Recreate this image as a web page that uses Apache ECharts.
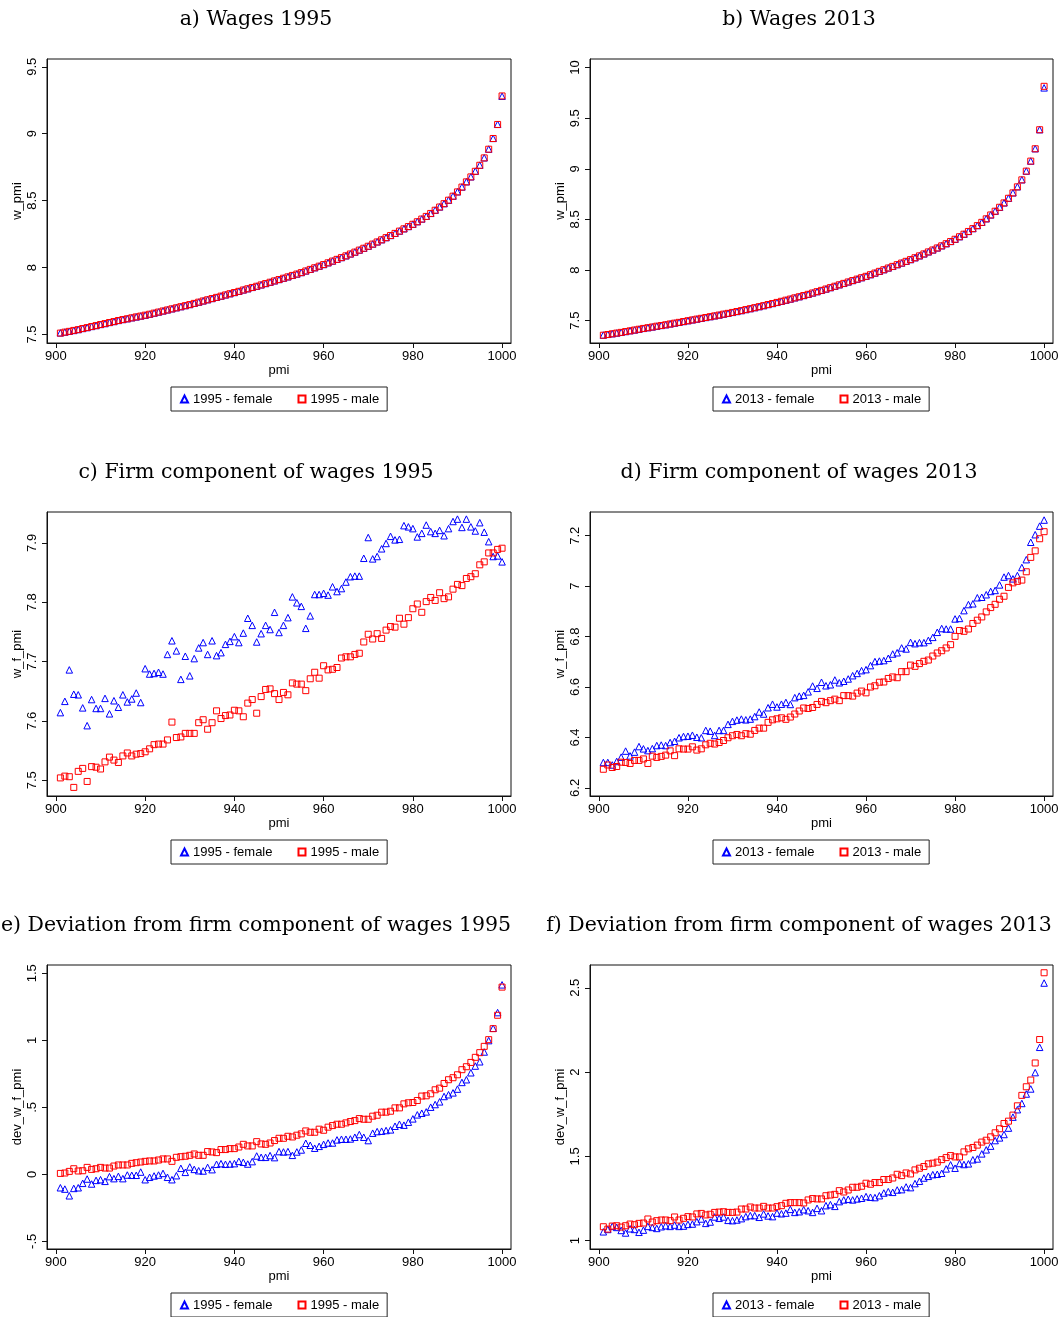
<!DOCTYPE html>
<html><head><meta charset="utf-8">
<script src="https://cdn.jsdelivr.net/npm/echarts@6/dist/echarts.min.js"></script>
<style>html,body{margin:0;padding:0;background:#fff}#c{width:1061px;height:1317px}</style>
</head><body><div id="c"></div><script>
const pmi = [901,902,903,904,905,906,907,908,909,910,911,912,913,914,915,916,917,918,919,920,
921,922,923,924,925,926,927,928,929,930,931,932,933,934,935,936,937,938,939,940,
941,942,943,944,945,946,947,948,949,950,951,952,953,954,955,956,957,958,959,960,
961,962,963,964,965,966,967,968,969,970,971,972,973,974,975,976,977,978,979,980,
981,982,983,984,985,986,987,988,989,990,991,992,993,994,995,996,997,998,999,1000];

const aFemale = [7.512,7.518,7.524,7.530,7.537,7.545,7.552,7.560,7.567,7.575,
7.582,7.590,7.597,7.605,7.612,7.618,7.625,7.631,7.638,7.644,
7.652,7.660,7.668,7.676,7.684,7.692,7.700,7.708,7.716,7.724,
7.733,7.742,7.751,7.760,7.769,7.778,7.787,7.796,7.805,7.814,
7.823,7.833,7.842,7.852,7.861,7.871,7.881,7.891,7.901,7.911,
7.921,7.931,7.942,7.952,7.963,7.975,7.987,7.999,8.011,8.023,
8.036,8.049,8.062,8.075,8.088,8.102,8.116,8.131,8.145,8.160,
8.176,8.192,8.208,8.224,8.240,8.256,8.273,8.290,8.307,8.324,
8.343,8.363,8.383,8.405,8.429,8.453,8.478,8.504,8.534,8.566,
8.602,8.641,8.678,8.720,8.765,8.820,8.885,8.965,9.070,9.280];
const aMale = [7.510,7.517,7.523,7.530,7.536,7.544,7.551,7.559,7.566,7.574,
7.581,7.589,7.596,7.604,7.611,7.617,7.624,7.631,7.637,7.644,
7.651,7.659,7.667,7.675,7.683,7.691,7.699,7.707,7.715,7.723,
7.732,7.741,7.750,7.759,7.768,7.777,7.786,7.795,7.804,7.813,
7.822,7.832,7.841,7.851,7.860,7.870,7.880,7.890,7.900,7.910,
7.920,7.930,7.941,7.951,7.962,7.974,7.986,7.998,8.010,8.022,
8.035,8.048,8.061,8.074,8.087,8.101,8.115,8.130,8.144,8.159,
8.175,8.191,8.207,8.223,8.239,8.255,8.272,8.289,8.306,8.323,
8.342,8.362,8.382,8.404,8.428,8.452,8.477,8.503,8.533,8.565,
8.601,8.640,8.677,8.719,8.764,8.819,8.884,8.964,9.069,9.282];

const bFemale = [7.358,7.365,7.371,7.378,7.385,7.393,7.401,7.408,7.416,7.424,
7.431,7.438,7.446,7.453,7.460,7.468,7.476,7.484,7.492,7.500,
7.508,7.516,7.524,7.532,7.540,7.548,7.556,7.565,7.573,7.582,
7.591,7.600,7.610,7.619,7.629,7.639,7.649,7.660,7.670,7.681,
7.692,7.703,7.714,7.726,7.737,7.749,7.761,7.774,7.787,7.800,
7.813,7.827,7.841,7.855,7.869,7.883,7.897,7.911,7.925,7.939,
7.955,7.971,7.988,8.004,8.021,8.037,8.054,8.070,8.087,8.104,
8.122,8.141,8.160,8.180,8.199,8.219,8.240,8.261,8.283,8.305,
8.330,8.355,8.382,8.410,8.440,8.472,8.507,8.545,8.582,8.621,
8.664,8.710,8.763,8.823,8.892,8.978,9.077,9.199,9.387,9.800];
const bMale = [7.356,7.363,7.370,7.377,7.384,7.392,7.399,7.407,7.415,7.423,
7.430,7.437,7.445,7.452,7.459,7.467,7.475,7.483,7.491,7.499,
7.507,7.515,7.523,7.531,7.539,7.547,7.555,7.564,7.572,7.581,
7.590,7.599,7.609,7.618,7.628,7.638,7.648,7.659,7.669,7.680,
7.691,7.702,7.713,7.725,7.736,7.748,7.760,7.773,7.786,7.799,
7.812,7.826,7.840,7.854,7.868,7.882,7.896,7.910,7.924,7.938,
7.954,7.970,7.987,8.003,8.020,8.036,8.053,8.069,8.086,8.103,
8.121,8.140,8.159,8.179,8.198,8.218,8.239,8.260,8.282,8.304,
8.329,8.354,8.381,8.409,8.439,8.471,8.506,8.544,8.581,8.620,
8.663,8.709,8.762,8.822,8.891,8.977,9.076,9.198,9.386,9.815];

const cFemale = [7.614,7.633,7.686,7.645,7.644,7.622,7.592,7.636,7.621,7.621,
7.638,7.612,7.634,7.623,7.644,7.632,7.637,7.647,7.631,7.688,
7.679,7.680,7.682,7.679,7.712,7.735,7.718,7.670,7.709,7.676,
7.705,7.723,7.732,7.712,7.735,7.710,7.715,7.729,7.734,7.742,
7.732,7.748,7.773,7.761,7.733,7.747,7.761,7.754,7.783,7.749,
7.761,7.774,7.809,7.799,7.793,7.756,7.777,7.813,7.813,7.815,
7.812,7.826,7.818,7.823,7.834,7.843,7.844,7.844,7.874,7.909,
7.873,7.877,7.890,7.899,7.911,7.905,7.906,7.929,7.927,7.924,
7.910,7.916,7.930,7.919,7.916,7.921,7.912,7.924,7.936,7.940,
7.926,7.940,7.927,7.920,7.934,7.918,7.902,7.877,7.878,7.868];
const cMale = [7.504,7.507,7.506,7.488,7.515,7.520,7.498,7.523,7.522,7.519,
7.531,7.539,7.534,7.530,7.541,7.546,7.541,7.544,7.545,7.548,
7.553,7.560,7.561,7.561,7.568,7.598,7.572,7.573,7.579,7.579,
7.579,7.597,7.602,7.586,7.597,7.617,7.604,7.609,7.610,7.618,
7.617,7.607,7.630,7.636,7.613,7.641,7.653,7.654,7.646,7.636,
7.648,7.644,7.664,7.662,7.662,7.651,7.671,7.682,7.672,7.693,
7.686,7.687,7.690,7.706,7.708,7.708,7.712,7.714,7.733,7.746,
7.738,7.747,7.739,7.753,7.759,7.758,7.773,7.763,7.774,7.789,
7.797,7.783,7.801,7.808,7.803,7.816,7.806,7.809,7.822,7.830,
7.828,7.840,7.843,7.848,7.863,7.868,7.883,7.883,7.889,7.891];

const dFemale = [6.301,6.301,6.291,6.305,6.322,6.346,6.327,6.342,6.364,6.355,
6.348,6.356,6.368,6.370,6.368,6.380,6.385,6.399,6.404,6.405,
6.409,6.401,6.399,6.428,6.425,6.408,6.428,6.428,6.452,6.464,
6.469,6.473,6.470,6.473,6.483,6.501,6.493,6.518,6.532,6.521,
6.532,6.539,6.531,6.558,6.564,6.567,6.581,6.604,6.595,6.619,
6.605,6.609,6.628,6.617,6.623,6.632,6.645,6.654,6.665,6.669,
6.685,6.701,6.703,6.705,6.714,6.731,6.736,6.755,6.751,6.777,
6.772,6.776,6.776,6.785,6.797,6.817,6.832,6.830,6.830,6.870,
6.872,6.903,6.927,6.930,6.954,6.956,6.966,6.979,6.983,7.005,
7.036,7.042,7.029,7.042,7.074,7.105,7.174,7.204,7.238,7.262];
const dMale = [6.274,6.291,6.281,6.285,6.302,6.301,6.297,6.309,6.309,6.315,
6.297,6.326,6.321,6.325,6.330,6.347,6.328,6.355,6.354,6.354,
6.363,6.350,6.355,6.371,6.377,6.374,6.380,6.388,6.399,6.407,
6.412,6.407,6.415,6.413,6.428,6.437,6.437,6.460,6.470,6.474,
6.478,6.472,6.481,6.493,6.505,6.517,6.515,6.519,6.531,6.543,
6.538,6.546,6.552,6.546,6.566,6.566,6.564,6.576,6.584,6.577,
6.600,6.605,6.619,6.620,6.634,6.640,6.637,6.661,6.661,6.687,
6.682,6.693,6.702,6.707,6.723,6.735,6.744,6.755,6.768,6.801,
6.824,6.821,6.830,6.852,6.865,6.878,6.898,6.915,6.928,6.948,
6.960,6.995,7.013,7.019,7.024,7.057,7.114,7.140,7.188,7.216];

const eFemale = [-0.100,-0.110,-0.160,-0.105,-0.100,-0.067,-0.035,-0.072,-0.045,-0.040,
-0.052,-0.017,-0.032,-0.015,-0.032,-0.005,-0.007,-0.007,0.017,-0.040,
-0.022,-0.012,-0.005,0.007,-0.022,-0.040,-0.010,0.045,0.015,0.055,
0.037,0.027,0.025,0.052,0.035,0.075,0.080,0.075,0.077,0.080,
0.097,0.090,0.077,0.095,0.137,0.127,0.127,0.140,0.125,0.170,
0.167,0.170,0.142,0.167,0.182,0.232,0.217,0.195,0.209,0.224,
0.234,0.234,0.257,0.262,0.262,0.264,0.277,0.297,0.277,0.252,
0.307,0.319,0.322,0.327,0.332,0.359,0.374,0.367,0.389,0.414,
0.444,0.456,0.466,0.501,0.521,0.541,0.581,0.594,0.608,0.636,
0.686,0.706,0.758,0.808,0.840,0.913,0.998,1.090,1.207,1.414];
const eMale = [0.007,0.010,0.022,0.042,0.025,0.027,0.052,0.037,0.042,0.052,
0.047,0.047,0.062,0.070,0.070,0.070,0.082,0.087,0.092,0.097,
0.100,0.100,0.107,0.115,0.115,0.097,0.127,0.132,0.135,0.142,
0.152,0.142,0.142,0.170,0.167,0.162,0.185,0.185,0.192,0.192,
0.204,0.224,0.212,0.212,0.244,0.227,0.224,0.234,0.252,0.269,
0.269,0.284,0.279,0.292,0.302,0.324,0.314,0.314,0.337,0.329,
0.352,0.364,0.374,0.374,0.384,0.394,0.401,0.416,0.411,0.411,
0.434,0.441,0.464,0.464,0.471,0.496,0.496,0.526,0.534,0.536,
0.551,0.584,0.586,0.601,0.631,0.643,0.678,0.706,0.721,0.743,
0.781,0.803,0.835,0.873,0.908,0.955,1.005,1.087,1.187,1.397];

const fFemale = [1.053,1.067,1.085,1.079,1.061,1.046,1.071,1.067,1.050,1.063,
1.085,1.079,1.073,1.083,1.089,1.085,1.093,1.085,1.087,1.097,
1.099,1.113,1.129,1.103,1.111,1.141,1.133,1.141,1.121,1.119,
1.123,1.131,1.143,1.149,1.149,1.139,1.159,1.147,1.143,1.164,
1.160,1.164,1.186,1.168,1.172,1.184,1.178,1.168,1.192,1.178,
1.208,1.214,1.204,1.232,1.242,1.246,1.242,1.248,1.252,1.262,
1.258,1.256,1.267,1.283,1.291,1.287,1.301,1.303,1.319,1.315,
1.339,1.353,1.372,1.382,1.392,1.394,1.400,1.426,1.450,1.430,
1.458,1.452,1.456,1.480,1.485,1.515,1.539,1.561,1.594,1.610,
1.630,1.668,1.733,1.777,1.814,1.870,1.900,1.997,2.147,2.528];
const fMale = [1.083,1.069,1.087,1.089,1.081,1.089,1.099,1.095,1.103,1.105,
1.129,1.111,1.119,1.123,1.123,1.119,1.141,1.123,1.133,1.143,
1.141,1.159,1.162,1.153,1.157,1.168,1.170,1.172,1.168,1.168,
1.170,1.188,1.188,1.200,1.194,1.194,1.204,1.194,1.194,1.202,
1.208,1.222,1.226,1.226,1.226,1.224,1.242,1.250,1.248,1.248,
1.267,1.271,1.275,1.297,1.289,1.301,1.317,1.317,1.323,1.341,
1.335,1.345,1.345,1.363,1.363,1.372,1.394,1.386,1.402,1.396,
1.420,1.430,1.440,1.456,1.460,1.466,1.481,1.493,1.505,1.497,
1.497,1.527,1.545,1.553,1.567,1.585,1.596,1.616,1.640,1.664,
1.695,1.709,1.745,1.800,1.862,1.913,1.953,2.054,2.193,2.589];

const xTicks = [900, 920, 940, 960, 980, 1000];
const xTickLabels = ['900', '920', '940', '960', '980', '1000'];
const yTicksA = [7.5, 8, 8.5, 9, 9.5];         const yLabelsA = ['7.5', '8', '8.5', '9', '9.5'];
const yTicksB = [7.5, 8, 8.5, 9, 9.5, 10];     const yLabelsB = ['7.5', '8', '8.5', '9', '9.5', '10'];
const yTicksC = [7.5, 7.6, 7.7, 7.8, 7.9];     const yLabelsC = ['7.5', '7.6', '7.7', '7.8', '7.9'];
const yTicksD = [6.2, 6.4, 6.6, 6.8, 7, 7.2];  const yLabelsD = ['6.2', '6.4', '6.6', '6.8', '7', '7.2'];
const yTicksE = [-0.5, 0, 0.5, 1, 1.5];        const yLabelsE = ['-.5', '0', '.5', '1', '1.5'];
const yTicksF = [1, 1.5, 2, 2.5];              const yLabelsF = ['1', '1.5', '2', '2.5'];

const titles = ['a) Wages 1995', 'b) Wages 2013', 'c) Firm component of wages 1995',
  'd) Firm component of wages 2013', 'e) Deviation from firm component of wages 1995',
  'f) Deviation from firm component of wages 2013'];
const yNames = ['w_pmi', 'w_pmi', 'w_f_pmi', 'w_f_pmi', 'dev_w_f_pmi', 'dev_w_f_pmi'];
const years = ['1995', '2013', '1995', '2013', '1995', '2013'];

const panels = [
  {f: aFemale, m: aMale, ticks: yTicksA, labels: yLabelsA, yMin: 7.436, yMax: 9.558},
  {f: bFemale, m: bMale, ticks: yTicksB, labels: yLabelsB, yMin: 7.279, yMax: 10.085},
  {f: cFemale, m: cMale, ticks: yTicksC, labels: yLabelsC, yMin: 7.4735, yMax: 7.952},
  {f: dFemale, m: dMale, ticks: yTicksD, labels: yLabelsD, yMin: 6.168, yMax: 7.294},
  {f: eFemale, m: eMale, ticks: yTicksE, labels: yLabelsE, yMin: -0.557, yMax: 1.562},
  {f: fFemale, m: fMale, ticks: yTicksF, labels: yLabelsF, yMin: 0.951, yMax: 2.635}
];

// layout
const colLeft = [47, 590], colWidth = [464, 463];
const rowTop = [59, 512, 965], plotH = 284;
const titleCenter = [256, 799], titleTop = [9, 462, 915];
const legendLeft = [171, 713], legendTop = [387, 840, 1293];
const SANS = 'Liberation Sans, Arial, sans-serif';
const SERIF = 'DejaVu Serif, serif';

const option = {
  animation: false,
  backgroundColor: '#fff',
  title: [], grid: [], xAxis: [], yAxis: [], legend: [], series: []
};

panels.forEach((p, i) => {
  const col = i % 2, row = Math.floor(i / 2);
  option.title.push({
    text: titles[i], left: titleCenter[col], top: titleTop[row], textAlign: 'center', padding: 0,
    textStyle: {fontFamily: SERIF, fontSize: 20.5, fontWeight: 'normal', color: '#000'}
  });
  option.grid.push({
    left: colLeft[col], top: rowTop[row], width: colWidth[col], height: plotH,
    show: true, borderColor: '#111', borderWidth: 1, backgroundColor: 'transparent',
    outerBoundsMode: 'none', containLabel: false
  });
  option.xAxis.push({
    gridIndex: i, type: 'value', min: 898, max: 1002,
    name: 'pmi', nameLocation: 'middle', nameGap: 21,
    nameTextStyle: {fontFamily: SANS, fontSize: 13, color: '#000'},
    axisLine: {show: true, onZero: false, lineStyle: {color: '#111', width: 1}},
    axisTick: {show: true, inside: false, length: 5, customValues: xTicks, lineStyle: {color: '#111'}},
    axisLabel: {customValues: xTicks, margin: 7, fontFamily: SANS, fontSize: 13, color: '#000',
      formatter: v => xTickLabels[xTicks.findIndex(t => Math.abs(t - v) < 1e-6)]},
    splitLine: {show: false}
  });
  option.yAxis.push({
    gridIndex: i, type: 'value', min: p.yMin, max: p.yMax,
    name: yNames[i], nameLocation: 'middle', nameGap: 23, nameRotate: 90,
    nameTextStyle: {fontFamily: SANS, fontSize: 13, color: '#000'},
    axisLine: {show: true, onZero: false, lineStyle: {color: '#111', width: 1}},
    axisTick: {show: true, inside: false, length: 5, customValues: p.ticks, lineStyle: {color: '#111'}},
    axisLabel: {customValues: p.ticks, rotate: 90, margin: 8, fontFamily: SANS, fontSize: 13, color: '#000',
      formatter: v => p.labels[p.ticks.findIndex(t => Math.abs(t - v) < 1e-6)]},
    splitLine: {show: false}
  });
  const fName = years[i] + ' - female', mName = years[i] + ' - male';
  option.legend.push({
    data: [fName, mName], left: legendLeft[col], top: legendTop[row], orient: 'horizontal',
    itemWidth: 7, itemHeight: 7, itemGap: 25, padding: [5, 8, 5, 9],
    borderColor: '#222', borderWidth: 1, backgroundColor: '#fff', selectedMode: false,
    textStyle: {fontFamily: SANS, fontSize: 13, color: '#000', lineHeight: 14}
  });
  option.series.push({
    type: 'scatter', name: fName, xAxisIndex: i, yAxisIndex: i,
    data: pmi.map((x, k) => [x, p.f[k]]),
    symbol: 'triangle', symbolSize: 6.5, silent: true,
    itemStyle: {color: 'rgba(0,0,255,0)', borderColor: '#0000ff', borderWidth: 1, opacity: 1}
  });
  option.series.push({
    type: 'scatter', name: mName, xAxisIndex: i, yAxisIndex: i,
    data: pmi.map((x, k) => [x, p.m[k]]),
    symbol: 'rect', symbolSize: 6, silent: true,
    itemStyle: {color: 'rgba(255,0,0,0)', borderColor: '#ff0000', borderWidth: 1, opacity: 1}
  });
});

const chart = echarts.init(document.getElementById('c'), null, {renderer: 'canvas'});
chart.setOption(option);
</script></body></html>
